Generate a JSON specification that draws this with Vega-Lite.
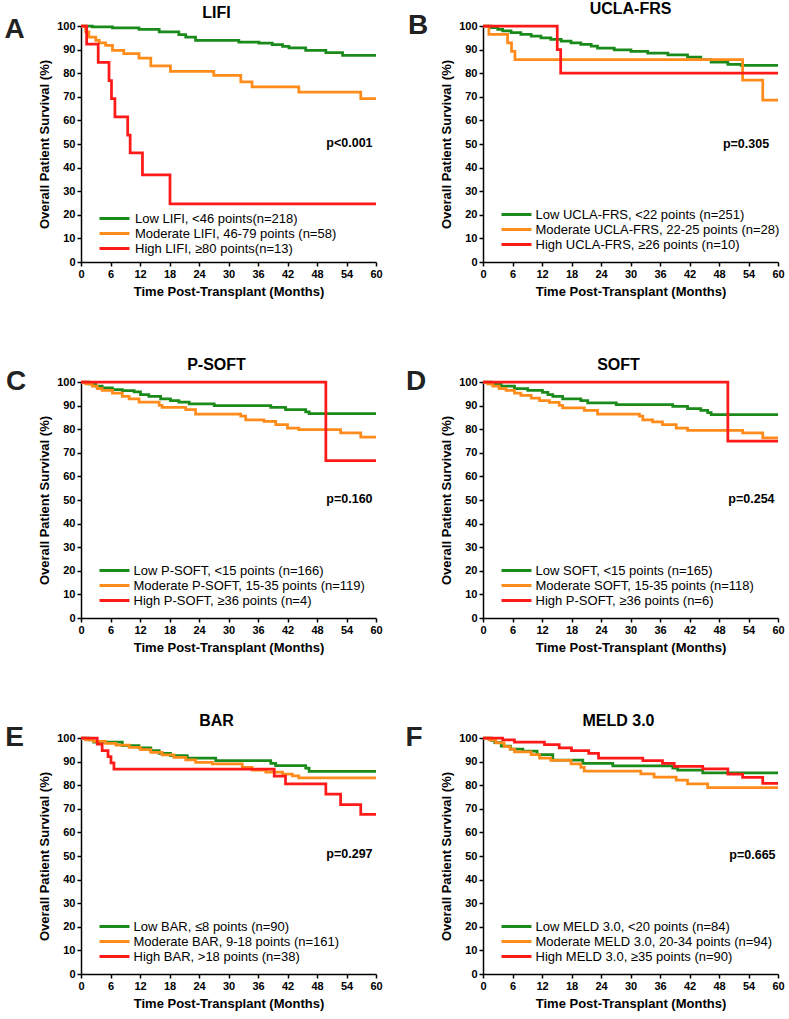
{
  "$schema": "https://vega.github.io/schema/vega-lite/v6.json",
  "background": "white",
  "padding": {"left": 4, "top": 1, "right": 5, "bottom": 5},
  "config": {
    "font": "Liberation Sans",
    "view": {"stroke": null},
    "axis": {"grid": false, "domainColor": "black", "domainWidth": 1.5, "tickColor": "black", "tickWidth": 1.5, "tickSize": 4, "labelFontSize": 11, "labelFontWeight": "bold", "labelColor": "black", "labelPadding": 2, "labelFlush": false, "labelOverlap": false, "titleFontSize": 13, "titleFontWeight": "bold", "titleColor": "black"},
    "axisX": {"titlePadding": 6},
    "axisY": {"titlePadding": 5},
    "title": {"fontSize": 16, "fontWeight": "bold", "color": "black", "offset": -5},
    "legend": {"orient": "bottom-left", "offset": 10.5, "title": null, "symbolType": "M-3,0H3", "symbolSize": 100, "symbolStrokeWidth": 3, "symbolOffset": 16, "labelOffset": 12.5, "labelFontSize": 13, "labelColor": "black", "labelLimit": 0, "rowPadding": 1, "padding": 0}
  },
  "datasets": {
    "A": [
      {"g":"L","t":0,"s":100},{"g":"L","t":2.3,"s":99.6},{"g":"L","t":6.4,"s":99.2},{"g":"L","t":11.8,"s":98.6},{"g":"L","t":15.9,"s":97.5},{"g":"L","t":19.9,"s":96.3},{"g":"L","t":21.3,"s":95.3},{"g":"L","t":23.3,"s":93.9},{"g":"L","t":32.1,"s":93.2},{"g":"L","t":36.2,"s":92.7},{"g":"L","t":38.9,"s":92.1},{"g":"L","t":41.0,"s":91.4},{"g":"L","t":42.3,"s":90.7},{"g":"L","t":45.7,"s":89.7},{"g":"L","t":49.8,"s":88.7},{"g":"L","t":53.2,"s":87.6},{"g":"L","t":60,"s":87.6},
      {"g":"M","t":0,"s":100},{"g":"M","t":0.95,"s":97.5},{"g":"M","t":1.6,"s":95.3},{"g":"M","t":3.0,"s":93.9},{"g":"M","t":3.7,"s":92.9},{"g":"M","t":5.0,"s":91.8},{"g":"M","t":6.4,"s":89.7},{"g":"M","t":8.7,"s":88.3},{"g":"M","t":11.8,"s":86.4},{"g":"M","t":14.2,"s":83.1},{"g":"M","t":18.2,"s":80.8},{"g":"M","t":27.0,"s":79.1},{"g":"M","t":32.5,"s":76.3},{"g":"M","t":34.8,"s":74.2},{"g":"M","t":44.3,"s":72.0},{"g":"M","t":56.9,"s":69.2},{"g":"M","t":60,"s":69.2},
      {"g":"H","t":0,"s":100},{"g":"H","t":1.15,"s":92.3},{"g":"H","t":3.5,"s":84.6},{"g":"H","t":5.7,"s":76.9},{"g":"H","t":6.2,"s":69.2},{"g":"H","t":6.9,"s":61.5},{"g":"H","t":9.5,"s":53.8},{"g":"H","t":10.0,"s":46.2},{"g":"H","t":12.5,"s":36.9},{"g":"H","t":18.1,"s":24.6},{"g":"H","t":60,"s":24.6}
    ],
    "B": [
      {"g":"L","t":0,"s":100},{"g":"L","t":1.6,"s":99.3},{"g":"L","t":3.0,"s":98.6},{"g":"L","t":4.0,"s":97.9},{"g":"L","t":5.7,"s":97.2},{"g":"L","t":7.7,"s":96.5},{"g":"L","t":9.8,"s":95.7},{"g":"L","t":11.8,"s":95.0},{"g":"L","t":13.8,"s":94.3},{"g":"L","t":15.9,"s":93.6},{"g":"L","t":17.9,"s":92.9},{"g":"L","t":19.9,"s":92.2},{"g":"L","t":22.0,"s":91.5},{"g":"L","t":23.3,"s":90.6},{"g":"L","t":26.7,"s":89.9},{"g":"L","t":30.1,"s":89.2},{"g":"L","t":33.5,"s":88.5},{"g":"L","t":37.6,"s":87.8},{"g":"L","t":41.6,"s":86.8},{"g":"L","t":44.3,"s":85.8},{"g":"L","t":46.4,"s":84.7},{"g":"L","t":49.8,"s":83.7},{"g":"L","t":52.5,"s":83.3},{"g":"L","t":60,"s":83.3},
      {"g":"M","t":0,"s":100},{"g":"M","t":1.2,"s":96.4},{"g":"M","t":5.0,"s":92.9},{"g":"M","t":5.8,"s":89.3},{"g":"M","t":6.5,"s":85.7},{"g":"M","t":52.8,"s":77.1},{"g":"M","t":56.9,"s":68.6},{"g":"M","t":60,"s":68.6},
      {"g":"H","t":0,"s":100},{"g":"H","t":15.1,"s":90},{"g":"H","t":15.8,"s":80},{"g":"H","t":60,"s":80}
    ],
    "C": [
      {"g":"L","t":0,"s":100},{"g":"L","t":1.6,"s":99.2},{"g":"L","t":3.0,"s":98.2},{"g":"L","t":4.3,"s":97.5},{"g":"L","t":6.4,"s":96.8},{"g":"L","t":8.4,"s":96.3},{"g":"L","t":10.8,"s":95.8},{"g":"L","t":12.1,"s":94.6},{"g":"L","t":13.8,"s":93.9},{"g":"L","t":16.2,"s":92.9},{"g":"L","t":18.2,"s":92.1},{"g":"L","t":19.9,"s":91.5},{"g":"L","t":22.0,"s":90.7},{"g":"L","t":27.1,"s":90.0},{"g":"L","t":38.6,"s":89.3},{"g":"L","t":41.6,"s":88.3},{"g":"L","t":45.7,"s":87.3},{"g":"L","t":46.4,"s":86.6},{"g":"L","t":60,"s":86.6},
      {"g":"M","t":0,"s":100},{"g":"M","t":0.95,"s":99.2},{"g":"M","t":2.3,"s":98.2},{"g":"M","t":3.3,"s":97.2},{"g":"M","t":4.3,"s":96.5},{"g":"M","t":6.4,"s":95.3},{"g":"M","t":8.4,"s":93.9},{"g":"M","t":9.8,"s":92.9},{"g":"M","t":11.8,"s":91.5},{"g":"M","t":15.9,"s":90.1},{"g":"M","t":16.5,"s":89.3},{"g":"M","t":21.3,"s":88.3},{"g":"M","t":23.3,"s":86.4},{"g":"M","t":32.5,"s":85.5},{"g":"M","t":33.5,"s":84.0},{"g":"M","t":37.2,"s":83.3},{"g":"M","t":39.6,"s":81.9},{"g":"M","t":42.0,"s":80.5},{"g":"M","t":44.3,"s":79.8},{"g":"M","t":52.8,"s":78.4},{"g":"M","t":56.9,"s":76.6},{"g":"M","t":60,"s":76.6},
      {"g":"H","t":0,"s":100},{"g":"H","t":49.8,"s":66.7},{"g":"H","t":60,"s":66.7}
    ],
    "D": [
      {"g":"L","t":0,"s":100},{"g":"L","t":1.6,"s":99.2},{"g":"L","t":3.7,"s":98.2},{"g":"L","t":6.4,"s":97.2},{"g":"L","t":9.1,"s":96.5},{"g":"L","t":12.1,"s":95.6},{"g":"L","t":13.2,"s":94.6},{"g":"L","t":14.2,"s":93.9},{"g":"L","t":16.2,"s":92.9},{"g":"L","t":19.9,"s":92.1},{"g":"L","t":21.3,"s":91.2},{"g":"L","t":27.1,"s":90.4},{"g":"L","t":38.6,"s":89.7},{"g":"L","t":41.6,"s":88.7},{"g":"L","t":44.3,"s":88.0},{"g":"L","t":45.7,"s":87.0},{"g":"L","t":46.4,"s":86.2},{"g":"L","t":60,"s":86.2},
      {"g":"M","t":0,"s":100},{"g":"M","t":0.95,"s":99.2},{"g":"M","t":2.0,"s":98.2},{"g":"M","t":3.3,"s":97.2},{"g":"M","t":4.7,"s":96.5},{"g":"M","t":6.4,"s":95.3},{"g":"M","t":7.7,"s":94.3},{"g":"M","t":9.8,"s":93.2},{"g":"M","t":11.5,"s":92.1},{"g":"M","t":13.5,"s":91.4},{"g":"M","t":15.5,"s":90.1},{"g":"M","t":16.2,"s":89.0},{"g":"M","t":20.6,"s":88.0},{"g":"M","t":23.3,"s":86.4},{"g":"M","t":31.8,"s":85.5},{"g":"M","t":32.5,"s":84.0},{"g":"M","t":34.5,"s":83.1},{"g":"M","t":36.5,"s":81.9},{"g":"M","t":39.3,"s":80.5},{"g":"M","t":41.6,"s":79.5},{"g":"M","t":52.8,"s":78.4},{"g":"M","t":56.9,"s":76.3},{"g":"M","t":60,"s":76.3},
      {"g":"H","t":0,"s":100},{"g":"H","t":49.8,"s":75},{"g":"H","t":60,"s":75}
    ],
    "E": [
      {"g":"L","t":0,"s":100},{"g":"L","t":1.6,"s":99.2},{"g":"L","t":2.6,"s":98.2},{"g":"L","t":8.4,"s":96.8},{"g":"L","t":11.8,"s":95.8},{"g":"L","t":14.2,"s":94.6},{"g":"L","t":15.9,"s":93.5},{"g":"L","t":18.2,"s":92.5},{"g":"L","t":21.6,"s":91.5},{"g":"L","t":27.4,"s":90.4},{"g":"L","t":38.6,"s":89.3},{"g":"L","t":39.6,"s":88.3},{"g":"L","t":45.7,"s":87.2},{"g":"L","t":46.4,"s":85.9},{"g":"L","t":60,"s":85.9},
      {"g":"M","t":0,"s":100},{"g":"M","t":0.95,"s":99.2},{"g":"M","t":2.6,"s":98.6},{"g":"M","t":5.0,"s":97.7},{"g":"M","t":7.1,"s":97.0},{"g":"M","t":9.8,"s":96.0},{"g":"M","t":12.1,"s":95.1},{"g":"M","t":14.2,"s":93.9},{"g":"M","t":16.5,"s":92.9},{"g":"M","t":18.9,"s":91.8},{"g":"M","t":21.3,"s":90.7},{"g":"M","t":23.3,"s":89.7},{"g":"M","t":26.7,"s":89.0},{"g":"M","t":32.8,"s":87.6},{"g":"M","t":34.8,"s":86.4},{"g":"M","t":37.6,"s":85.5},{"g":"M","t":41.0,"s":84.7},{"g":"M","t":43.0,"s":84.0},{"g":"M","t":44.3,"s":83.1},{"g":"M","t":60,"s":83.1},
      {"g":"H","t":0,"s":100},{"g":"H","t":3.3,"s":97.4},{"g":"H","t":4.3,"s":94.7},{"g":"H","t":5.5,"s":92.1},{"g":"H","t":6.1,"s":89.5},{"g":"H","t":6.7,"s":86.8},{"g":"H","t":39.3,"s":83.8},{"g":"H","t":41.6,"s":80.6},{"g":"H","t":49.8,"s":76.2},{"g":"H","t":52.8,"s":71.8},{"g":"H","t":56.9,"s":67.6},{"g":"H","t":60,"s":67.6}
    ],
    "F": [
      {"g":"L","t":0,"s":100},{"g":"L","t":1.7,"s":99.0},{"g":"L","t":2.4,"s":98.0},{"g":"L","t":3.7,"s":96.6},{"g":"L","t":5.6,"s":95.3},{"g":"L","t":8.1,"s":94.4},{"g":"L","t":11.0,"s":93.0},{"g":"L","t":14.2,"s":90.6},{"g":"L","t":20.3,"s":89.3},{"g":"L","t":26.4,"s":88.2},{"g":"L","t":38.6,"s":87.2},{"g":"L","t":39.6,"s":86.4},{"g":"L","t":44.7,"s":85.2},{"g":"L","t":60,"s":85.2},
      {"g":"M","t":0,"s":100},{"g":"M","t":1.2,"s":99.2},{"g":"M","t":2.6,"s":97.9},{"g":"M","t":4.3,"s":96.3},{"g":"M","t":5.5,"s":95.3},{"g":"M","t":6.4,"s":94.1},{"g":"M","t":9.8,"s":93.0},{"g":"M","t":11.5,"s":91.5},{"g":"M","t":13.8,"s":90.5},{"g":"M","t":17.9,"s":89.0},{"g":"M","t":19.9,"s":87.6},{"g":"M","t":20.6,"s":86.0},{"g":"M","t":32.1,"s":84.8},{"g":"M","t":34.8,"s":83.4},{"g":"M","t":39.3,"s":82.2},{"g":"M","t":41.6,"s":80.6},{"g":"M","t":45.7,"s":79.0},{"g":"M","t":60,"s":79.0},
      {"g":"H","t":0,"s":100},{"g":"H","t":4.0,"s":99.2},{"g":"H","t":6.4,"s":98.2},{"g":"H","t":12.5,"s":97.2},{"g":"H","t":15.5,"s":95.8},{"g":"H","t":18.0,"s":94.6},{"g":"H","t":21.5,"s":93.5},{"g":"H","t":23.5,"s":91.5},{"g":"H","t":32.5,"s":90.4},{"g":"H","t":36.5,"s":89.3},{"g":"H","t":38.9,"s":88.0},{"g":"H","t":44.7,"s":86.9},{"g":"H","t":49.8,"s":84.7},{"g":"H","t":52.8,"s":83.3},{"g":"H","t":56.9,"s":80.8},{"g":"H","t":60,"s":80.8}
    ]
  },
  "columns": 2,
  "spacing": {"row": 59, "column": 22},
  "resolve": {"scale": {"color": "independent"}, "legend": {"color": "independent"}},
  "concat": [
    {
      "width": 295, "height": 236,
      "title": {"text": "LIFI", "dx": -12},
      "layer": [
        {"data": {"name": "A"}, "mark": {"type": "line", "interpolate": "step-after", "strokeWidth": 2.75},
         "encoding": {
           "x": {"field": "t", "type": "quantitative", "scale": {"domain": [0, 60], "nice": false}, "axis": {"values": [0,6,12,18,24,30,36,42,48,54,60], "tickCount": 11, "title": "Time Post-Transplant (Months)"}},
           "y": {"field": "s", "type": "quantitative", "scale": {"domain": [0, 100], "nice": false}, "axis": {"values": [0,10,20,30,40,50,60,70,80,90,100], "tickCount": 11, "title": "Overall Patient Survival (%)"}},
           "color": {"field": "g", "type": "nominal", "scale": {"domain": ["L","M","H"], "range": ["#1a8a1a","#ff8c1a","#ff1a1a"]},
             "legend": {"offset": 6.5, "symbolOffset": 20, "labelOffset": 14, "labelExpr": "datum.value == 'L' ? 'Low LIFI, <46 points(n=218)' : datum.value == 'M' ? 'Moderate LIFI, 46-79 points (n=58)' : 'High LIFI, ≥80 points(n=13)'"}}
         }},
        {"data": {"values": [{"p": "p<0.001"}]}, "mark": {"type": "text", "align": "right", "baseline": "middle", "fontSize": 12.5, "fontWeight": "bold", "color": "black"},
         "encoding": {"x": {"datum": 59.3}, "y": {"datum": 50.5}, "text": {"field": "p"}}},
        {"data": {"values": [{"k": "A"}]}, "mark": {"type": "text", "align": "center", "baseline": "middle", "fontSize": 28, "fontWeight": "bold", "color": "#222222"},
         "encoding": {"x": {"datum": -13.5}, "y": {"datum": 98.5}, "text": {"field": "k"}}}
      ]
    },
    {
      "width": 295, "height": 236,
      "title": {"text": "UCLA-FRS", "dx": 0},
      "layer": [
        {"data": {"name": "B"}, "mark": {"type": "line", "interpolate": "step-after", "strokeWidth": 2.75},
         "encoding": {
           "x": {"field": "t", "type": "quantitative", "scale": {"domain": [0, 60], "nice": false}, "axis": {"values": [0,6,12,18,24,30,36,42,48,54,60], "tickCount": 11, "title": "Time Post-Transplant (Months)"}},
           "y": {"field": "s", "type": "quantitative", "scale": {"domain": [0, 100], "nice": false}, "axis": {"values": [0,10,20,30,40,50,60,70,80,90,100], "tickCount": 11, "title": "Overall Patient Survival (%)"}},
           "color": {"field": "g", "type": "nominal", "scale": {"domain": ["L","M","H"], "range": ["#1a8a1a","#ff8c1a","#ff1a1a"]},
             "legend": {"labelExpr": "datum.value == 'L' ? 'Low UCLA-FRS, <22 points (n=251)' : datum.value == 'M' ? 'Moderate UCLA-FRS, 22-25 points (n=28)' : 'High UCLA-FRS, ≥26 points (n=10)'"}}
         }},
        {"data": {"values": [{"p": "p=0.305"}]}, "mark": {"type": "text", "align": "right", "baseline": "middle", "fontSize": 12.5, "fontWeight": "bold", "color": "black"},
         "encoding": {"x": {"datum": 58.2}, "y": {"datum": 50.2}, "text": {"field": "p"}}},
        {"data": {"values": [{"k": "B"}]}, "mark": {"type": "text", "align": "center", "baseline": "middle", "fontSize": 28, "fontWeight": "bold", "color": "#222222"},
         "encoding": {"x": {"datum": -13.2}, "y": {"datum": 100}, "text": {"field": "k"}}}
      ]
    },
    {
      "width": 295, "height": 236,
      "title": {"text": "P-SOFT", "dx": -12},
      "layer": [
        {"data": {"name": "C"}, "mark": {"type": "line", "interpolate": "step-after", "strokeWidth": 2.75},
         "encoding": {
           "x": {"field": "t", "type": "quantitative", "scale": {"domain": [0, 60], "nice": false}, "axis": {"values": [0,6,12,18,24,30,36,42,48,54,60], "tickCount": 11, "title": "Time Post-Transplant (Months)"}},
           "y": {"field": "s", "type": "quantitative", "scale": {"domain": [0, 100], "nice": false}, "axis": {"values": [0,10,20,30,40,50,60,70,80,90,100], "tickCount": 11, "title": "Overall Patient Survival (%)"}},
           "color": {"field": "g", "type": "nominal", "scale": {"domain": ["L","M","H"], "range": ["#1a8a1a","#ff8c1a","#ff1a1a"]},
             "legend": {"labelExpr": "datum.value == 'L' ? 'Low P-SOFT, <15 points (n=166)' : datum.value == 'M' ? 'Moderate P-SOFT, 15-35 points (n=119)' : 'High P-SOFT, ≥36 points (n=4)'"}}
         }},
        {"data": {"values": [{"p": "p=0.160"}]}, "mark": {"type": "text", "align": "right", "baseline": "middle", "fontSize": 12.5, "fontWeight": "bold", "color": "black"},
         "encoding": {"x": {"datum": 59.3}, "y": {"datum": 50.5}, "text": {"field": "p"}}},
        {"data": {"values": [{"k": "C"}]}, "mark": {"type": "text", "align": "center", "baseline": "middle", "fontSize": 28, "fontWeight": "bold", "color": "#222222"},
         "encoding": {"x": {"datum": -13.2}, "y": {"datum": 100}, "text": {"field": "k"}}}
      ]
    },
    {
      "width": 295, "height": 236,
      "title": {"text": "SOFT", "dx": -12},
      "layer": [
        {"data": {"name": "D"}, "mark": {"type": "line", "interpolate": "step-after", "strokeWidth": 2.75},
         "encoding": {
           "x": {"field": "t", "type": "quantitative", "scale": {"domain": [0, 60], "nice": false}, "axis": {"values": [0,6,12,18,24,30,36,42,48,54,60], "tickCount": 11, "title": "Time Post-Transplant (Months)"}},
           "y": {"field": "s", "type": "quantitative", "scale": {"domain": [0, 100], "nice": false}, "axis": {"values": [0,10,20,30,40,50,60,70,80,90,100], "tickCount": 11, "title": "Overall Patient Survival (%)"}},
           "color": {"field": "g", "type": "nominal", "scale": {"domain": ["L","M","H"], "range": ["#1a8a1a","#ff8c1a","#ff1a1a"]},
             "legend": {"labelExpr": "datum.value == 'L' ? 'Low SOFT, <15 points (n=165)' : datum.value == 'M' ? 'Moderate SOFT, 15-35 points (n=118)' : 'High P-SOFT, ≥36 points (n=6)'"}}
         }},
        {"data": {"values": [{"p": "p=0.254"}]}, "mark": {"type": "text", "align": "right", "baseline": "middle", "fontSize": 12.5, "fontWeight": "bold", "color": "black"},
         "encoding": {"x": {"datum": 59.3}, "y": {"datum": 50.5}, "text": {"field": "p"}}},
        {"data": {"values": [{"k": "D"}]}, "mark": {"type": "text", "align": "center", "baseline": "middle", "fontSize": 28, "fontWeight": "bold", "color": "#222222"},
         "encoding": {"x": {"datum": -13.6}, "y": {"datum": 100}, "text": {"field": "k"}}}
      ]
    },
    {
      "width": 295, "height": 236,
      "title": {"text": "BAR", "dx": -12},
      "layer": [
        {"data": {"name": "E"}, "mark": {"type": "line", "interpolate": "step-after", "strokeWidth": 2.75},
         "encoding": {
           "x": {"field": "t", "type": "quantitative", "scale": {"domain": [0, 60], "nice": false}, "axis": {"values": [0,6,12,18,24,30,36,42,48,54,60], "tickCount": 11, "title": "Time Post-Transplant (Months)"}},
           "y": {"field": "s", "type": "quantitative", "scale": {"domain": [0, 100], "nice": false}, "axis": {"values": [0,10,20,30,40,50,60,70,80,90,100], "tickCount": 11, "title": "Overall Patient Survival (%)"}},
           "color": {"field": "g", "type": "nominal", "scale": {"domain": ["L","M","H"], "range": ["#1a8a1a","#ff8c1a","#ff1a1a"]},
             "legend": {"labelExpr": "datum.value == 'L' ? 'Low BAR, ≤8 points (n=90)' : datum.value == 'M' ? 'Moderate BAR, 9-18 points (n=161)' : 'High BAR, >18 points (n=38)'"}}
         }},
        {"data": {"values": [{"p": "p=0.297"}]}, "mark": {"type": "text", "align": "right", "baseline": "middle", "fontSize": 12.5, "fontWeight": "bold", "color": "black"},
         "encoding": {"x": {"datum": 59.3}, "y": {"datum": 51}, "text": {"field": "p"}}},
        {"data": {"values": [{"k": "E"}]}, "mark": {"type": "text", "align": "center", "baseline": "middle", "fontSize": 28, "fontWeight": "bold", "color": "#222222"},
         "encoding": {"x": {"datum": -13.5}, "y": {"datum": 100}, "text": {"field": "k"}}}
      ]
    },
    {
      "width": 295, "height": 236,
      "title": {"text": "MELD 3.0", "dx": -12},
      "layer": [
        {"data": {"name": "F"}, "mark": {"type": "line", "interpolate": "step-after", "strokeWidth": 2.75},
         "encoding": {
           "x": {"field": "t", "type": "quantitative", "scale": {"domain": [0, 60], "nice": false}, "axis": {"values": [0,6,12,18,24,30,36,42,48,54,60], "tickCount": 11, "title": "Time Post-Transplant (Months)"}},
           "y": {"field": "s", "type": "quantitative", "scale": {"domain": [0, 100], "nice": false}, "axis": {"values": [0,10,20,30,40,50,60,70,80,90,100], "tickCount": 11, "title": "Overall Patient Survival (%)"}},
           "color": {"field": "g", "type": "nominal", "scale": {"domain": ["L","M","H"], "range": ["#1a8a1a","#ff8c1a","#ff1a1a"]},
             "legend": {"labelExpr": "datum.value == 'L' ? 'Low MELD 3.0, <20 points (n=84)' : datum.value == 'M' ? 'Moderate MELD 3.0, 20-34 points (n=94)' : 'High MELD 3.0, ≥35 points (n=90)'"}}
         }},
        {"data": {"values": [{"p": "p=0.665"}]}, "mark": {"type": "text", "align": "right", "baseline": "middle", "fontSize": 12.5, "fontWeight": "bold", "color": "black"},
         "encoding": {"x": {"datum": 59.5}, "y": {"datum": 50.5}, "text": {"field": "p"}}},
        {"data": {"values": [{"k": "F"}]}, "mark": {"type": "text", "align": "center", "baseline": "middle", "fontSize": 28, "fontWeight": "bold", "color": "#222222"},
         "encoding": {"x": {"datum": -14}, "y": {"datum": 100}, "text": {"field": "k"}}}
      ]
    }
  ]
}
